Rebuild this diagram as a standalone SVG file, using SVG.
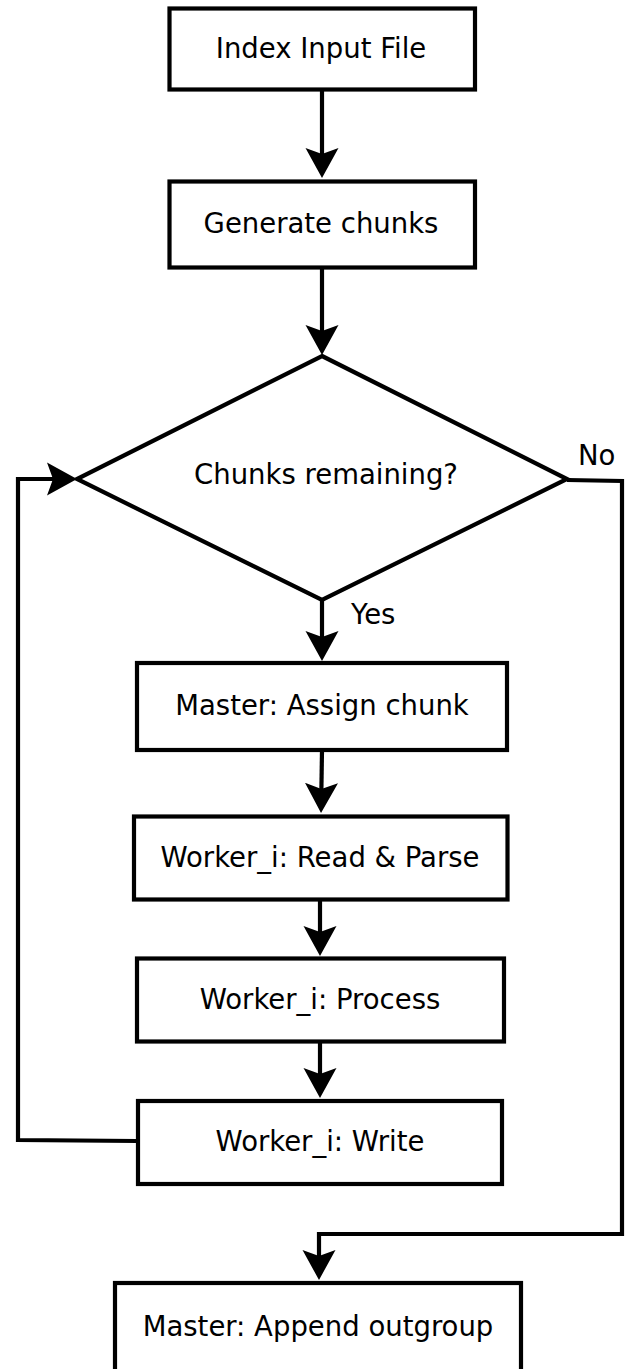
<svg xmlns="http://www.w3.org/2000/svg" width="627" height="1369" viewBox="0 0 627 1369">
<style>
.box{fill:#fff;stroke:#000;stroke-width:4.2}
.lbl{font-family:"DejaVu Sans",sans-serif;font-size:27.5px;fill:#000;text-anchor:middle}
.edge{fill:none;stroke:#000;stroke-width:4.2;stroke-linejoin:miter}
.el{font-family:"DejaVu Sans",sans-serif;font-size:27.5px;fill:#000}
</style>
<defs>
<marker id="arr" markerUnits="userSpaceOnUse" markerWidth="32" markerHeight="36" viewBox="0 0 32 36" refX="12" refY="18" orient="auto">
<path d="M0,1.5 L30,18 L0,34.5 L6,18 Z" fill="#000"/>
</marker>
</defs>
<rect width="627" height="1369" fill="#fff"/>
<g id="connectors">
<path class="edge" d="M322,90 L322,160" marker-end="url(#arr)"/>
<path class="edge" d="M322,268 L322,337" marker-end="url(#arr)"/>
<path class="edge" d="M322,600 L322,643" marker-end="url(#arr)"/>
<path class="edge" d="M322,750 L321.3,795" marker-end="url(#arr)"/>
<path class="edge" d="M320,900 L320,938" marker-end="url(#arr)"/>
<path class="edge" d="M320,1042 L320,1080" marker-end="url(#arr)"/>
<path class="edge" d="M137,1141 L18,1140 L18,479 L59,479" marker-end="url(#arr)"/>
<path class="edge" d="M567,480 L622,481 L622,1234 L319,1234 L319,1262" marker-end="url(#arr)"/>
<text class="el" x="351" y="624">Yes</text>
<text class="el" x="578" y="465">No</text>
</g>
<g id="n1"><rect class="box" x="169.5" y="8.5" width="305.5" height="81"/><text class="lbl" x="321" y="58">Index Input File</text></g>
<g id="n2"><rect class="box" x="169.5" y="181.5" width="305.5" height="86"/><text class="lbl" x="321" y="233">Generate chunks</text></g>
<g id="n3"><polygon class="box" points="322,356 567,479 322,600 77,479"/><text class="lbl" x="326" y="484">Chunks remaining?</text></g>
<g id="n4"><rect class="box" x="137" y="663" width="370" height="87"/><text class="lbl" x="322" y="715">Master: Assign chunk</text></g>
<g id="n5"><rect class="box" x="134" y="816.5" width="373.5" height="83"/><text class="lbl" x="320" y="867">Worker_i: Read &amp; Parse</text></g>
<g id="n6"><rect class="box" x="137" y="958.5" width="367" height="83"/><text class="lbl" x="320" y="1009">Worker_i: Process</text></g>
<g id="n7"><rect class="box" x="138" y="1101" width="364" height="83"/><text class="lbl" x="320" y="1151">Worker_i: Write</text></g>
<g id="n8"><rect class="box" x="115" y="1283" width="406" height="100"/><text class="lbl" x="318" y="1336">Master: Append outgroup</text></g>
</svg>
